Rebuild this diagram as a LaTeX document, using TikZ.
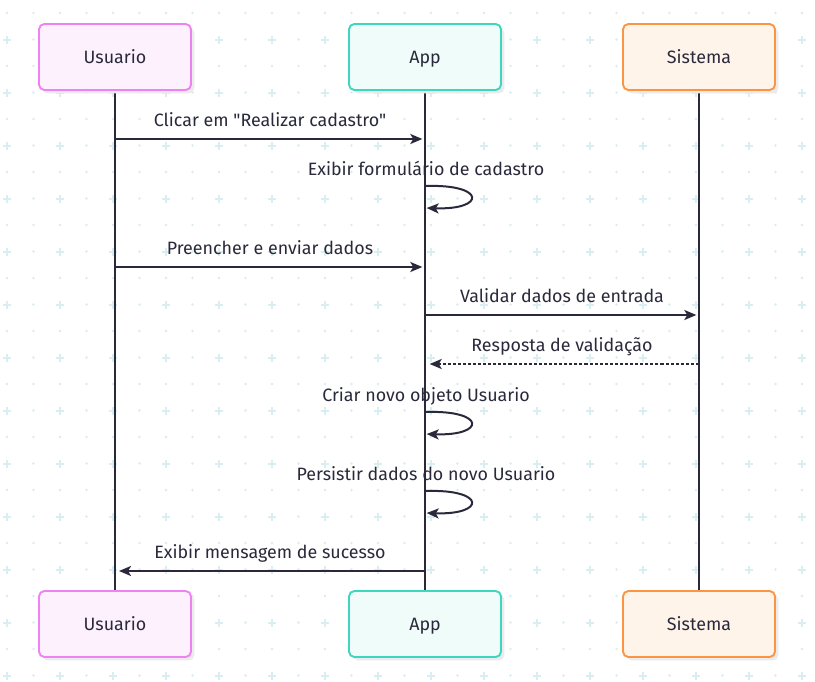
\documentclass[tikz,border=0pt]{standalone}
\usepackage{fontspec}
\newfontfamily\diagfont{Fira Sans}
\usetikzlibrary{arrows.meta, shadows}
\definecolor{ink}{HTML}{2A293B}
\definecolor{gridc}{HTML}{D8EEF0}
\definecolor{userline}{HTML}{EE82F3}
\definecolor{userfill}{HTML}{FDF1FD}
\definecolor{appline}{HTML}{3DD6BE}
\definecolor{appfill}{HTML}{EFFCF9}
\definecolor{sysline}{HTML}{FB9443}
\definecolor{sysfill}{HTML}{FFF4EA}
\tikzstyle{actor} = [rectangle, rounded corners=4pt, minimum width=114pt, minimum height=49.5pt, text centered, text height=10pt, text depth=1pt, line width=1.4pt, text=ink, drop shadow={shadow xshift=2.5pt, shadow yshift=-2.5pt, fill=black!8, opacity=1}]
\tikzstyle{lifeline} = [line width=1.5pt, draw=ink]
\tikzstyle{msg} = [line width=1.5pt, draw=ink, -{Stealth[length=9pt, width=7.5pt, inset=2.2pt]}, shorten >=2pt]
\tikzstyle{reply} = [msg, dash pattern=on 2.3pt off 1.5pt]
\tikzstyle{msgtext} = [text=ink, anchor=base, yshift=9.75pt, inner sep=0pt]

\begin{document}
\begin{tikzpicture}[x=0.75pt, y=-0.75pt, font=\diagfont\fontsize{13.4pt}{15pt}\selectfont]
    \useasboundingbox (0,0) rectangle (815,682);
    \fill[white] (0,0) rectangle (815,682);

    % dotted grid in the background
    \foreach \r in {0,2,...,24}
        \foreach \c in {0,...,30}
            \fill[gridc] (7+26.5*\c, 13+26.5*\r) circle (1.3);
    \foreach \r in {1,3,...,25} {
        \foreach \c in {1,3,...,29}
            \fill[gridc] (7+26.5*\c, 13+26.5*\r) circle (1.3);
        \foreach \c in {0,2,...,30}
            \draw[gridc, line width=1.5pt] (3+26.5*\c, 13+26.5*\r) -- (11+26.5*\c, 13+26.5*\r)
                (7+26.5*\c, 9+26.5*\r) -- (7+26.5*\c, 17+26.5*\r);
    }

    % lifelines
    \coordinate (usertop) at (115,90);
    \coordinate (userbot) at (115,591);
    \coordinate (apptop) at (425,90);
    \coordinate (appbot) at (425,591);
    \coordinate (systop) at (699,90);
    \coordinate (sysbot) at (699,591);
    \draw [lifeline] (usertop) -- (userbot);
    \draw [lifeline] (apptop) -- (appbot);
    \draw [lifeline] (systop) -- (sysbot);

    % participants
    \node (usuario) [actor, draw=userline, fill=userfill] at (115,57) {Usuario};
    \node (app) [actor, draw=appline, fill=appfill] at (425,57) {App};
    \node (sistema) [actor, draw=sysline, fill=sysfill] at (699,57) {Sistema};
    \node (usuariob) [actor, draw=userline, fill=userfill] at (115,624) {Usuario};
    \node (appb) [actor, draw=appline, fill=appfill] at (425,624) {App};
    \node (sistemab) [actor, draw=sysline, fill=sysfill] at (699,624) {Sistema};

    % messages
    \coordinate (u1) at (115,139);
    \coordinate (a1) at (425,139);
    \draw [msg] (u1) -- node (t1) [msgtext] {Clicar em "Realizar cadastro"} (a1);

    \coordinate (a2) at (426,186);
    \coordinate (a2b) at (426,208);
    \node (t2) [msgtext, yshift=-1.5pt] at (a2) {Exibir formulário de cadastro};
    \draw [msg, shorten >=0.5pt] (a2) .. controls (486,184) and (486,210) .. (a2b);

    \coordinate (u3) at (115,267);
    \coordinate (a3) at (425,267);
    \draw [msg] (u3) -- node (t3) [msgtext] {Preencher e enviar dados} (a3);

    \coordinate (a4) at (425,315);
    \coordinate (s4) at (699,315);
    \draw [msg] (a4) -- node (t4) [msgtext] {Validar dados de entrada} (s4);

    \coordinate (s5) at (699,364);
    \coordinate (a5) at (425,364);
    \draw [reply, shorten >=3.5pt] (s5) -- node (t5) [msgtext] {Resposta de validação} (a5);

    \coordinate (a6) at (426,412);
    \coordinate (a6b) at (426,434);
    \node (t6) [msgtext, yshift=-1.5pt] at (a6) {Criar novo objeto Usuario};
    \draw [msg, shorten >=0.5pt] (a6) .. controls (486,410) and (486,436) .. (a6b);

    \coordinate (a7) at (426,491);
    \coordinate (a7b) at (426,513);
    \node (t7) [msgtext, yshift=-1.5pt] at (a7) {Persistir dados do novo Usuario};
    \draw [msg, shorten >=0.5pt] (a7) .. controls (486,489) and (486,515) .. (a7b);

    \coordinate (a8) at (425,571);
    \coordinate (u8) at (115,571);
    \draw [msg, shorten >=3pt] (a8) -- node (t8) [msgtext] {Exibir mensagem de sucesso} (u8);

\end{tikzpicture}
\end{document}
